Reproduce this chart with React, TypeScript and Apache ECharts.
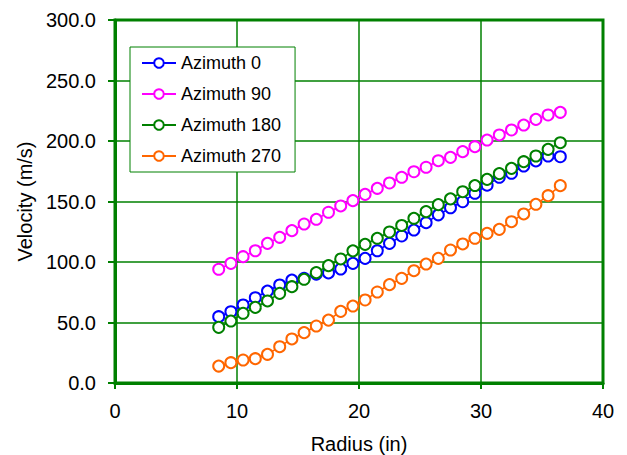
import React, { useEffect, useRef } from "react";
import * as echarts from "echarts";

const radius = [8.5, 9.5, 10.5, 11.5, 12.5, 13.5, 14.5, 15.5, 16.5, 17.5, 18.5, 19.5, 20.5, 21.5, 22.5, 23.5, 24.5, 25.5, 26.5, 27.5, 28.5, 29.5, 30.5, 31.5, 32.5, 33.5, 34.5, 35.5, 36.5];

const azimuth0 = [54.8, 58.9, 64.5, 70.5, 76.0, 81.0, 85.1, 86.5, 90.0, 91.0, 94.2, 98.9, 103.0, 109.3, 115.4, 121.5, 126.4, 132.5, 139.0, 144.8, 149.8, 156.8, 163.5, 170.0, 173.3, 179.3, 183.5, 187.6, 187.0];
const azimuth90 = [94.0, 98.9, 104.4, 109.3, 115.4, 120.4, 125.9, 131.4, 135.3, 141.1, 146.3, 150.7, 155.9, 160.9, 165.3, 170.0, 174.6, 178.3, 183.7, 186.5, 191.2, 195.3, 200.8, 205.0, 209.1, 213.2, 217.9, 221.5, 223.7];
const azimuth180 = [46.0, 51.2, 57.6, 62.5, 67.8, 74.1, 79.6, 85.7, 91.2, 97.0, 102.5, 109.2, 114.6, 119.6, 124.8, 130.2, 136.1, 141.6, 147.4, 152.2, 158.1, 163.2, 168.3, 173.0, 177.4, 182.9, 187.6, 193.1, 198.6];
const azimuth270 = [14.0, 16.8, 19.0, 20.1, 23.7, 30.0, 36.4, 41.6, 47.1, 52.0, 59.2, 63.6, 68.6, 75.2, 81.3, 86.5, 92.8, 98.3, 103.0, 109.9, 114.9, 119.6, 123.7, 127.0, 133.3, 139.7, 147.7, 154.8, 163.1];

const seriesNames = ["Azimuth 0", "Azimuth 90", "Azimuth 180", "Azimuth 270"];
const seriesColors = ["#0000FF", "#FF00FF", "#008000", "#FF6600"];
const seriesValues = [azimuth0, azimuth90, azimuth180, azimuth270];

const FONT = 'Arial, "Liberation Sans", sans-serif';
const GREEN = "#008000";
const AXIS_FONT = 20;

export default function App() {
  const ref = useRef<HTMLDivElement>(null);
  useEffect(() => {
    if (!ref.current) return;
    const chart = echarts.init(ref.current, null, { renderer: "svg" });
    chart.setOption({
      animation: false,
      backgroundColor: "#ffffff",
      textStyle: { fontFamily: FONT },
      grid: {
        left: 115,
        right: 24,
        top: 20,
        bottom: 72,
        containLabel: false,
        outerBoundsMode: "none",
        show: true,
        borderColor: GREEN,
        borderWidth: 3,
        backgroundColor: "transparent",
      },
      legend: {
        orient: "vertical",
        left: 130,
        top: 47,
        width: 165,
        padding: [7, 14, 7, 11],
        itemGap: 13,
        itemWidth: 34,
        itemHeight: 12,
        borderColor: GREEN,
        borderWidth: 1,
        backgroundColor: "#ffffff",
        textStyle: { fontFamily: FONT, fontSize: 18, color: "#000" },
        data: seriesNames,
      },
      xAxis: {
        type: "value",
        min: 0,
        max: 40,
        interval: 10,
        name: "Radius (in)",
        nameLocation: "middle",
        nameGap: 51,
        nameTextStyle: { fontFamily: FONT, fontSize: AXIS_FONT, color: "#000" },
        axisLine: { show: true, lineStyle: { color: GREEN, width: 3 } },
        axisTick: { show: true, length: 6, lineStyle: { color: GREEN, width: 2 } },
        axisLabel: { fontFamily: FONT, fontSize: AXIS_FONT, color: "#000", margin: 18 },
        splitLine: { show: true, lineStyle: { color: GREEN, width: 1.5 } },
      },
      yAxis: {
        type: "value",
        min: 0,
        max: 300,
        interval: 50,
        name: "Velocity (m/s)",
        nameLocation: "middle",
        nameRotate: 90,
        nameGap: 77,
        nameTextStyle: { fontFamily: FONT, fontSize: AXIS_FONT, color: "#000" },
        axisLine: { show: true, lineStyle: { color: GREEN, width: 3 } },
        axisTick: { show: true, length: 7, lineStyle: { color: GREEN, width: 2 } },
        axisLabel: {
          fontFamily: FONT,
          fontSize: AXIS_FONT,
          color: "#000",
          margin: 19,
          formatter: (v: number) => v.toFixed(1),
        },
        splitLine: { show: true, lineStyle: { color: GREEN, width: 1.5 } },
      },
      series: seriesNames.map((name, i) => ({
        name,
        type: "line",
        data: radius.map((r, j) => [r, seriesValues[i][j]]),
        symbol: "emptyCircle",
        symbolSize: 11,
        showAllSymbol: true,
        color: seriesColors[i],
        lineStyle: { color: seriesColors[i], width: 1.5 },
        itemStyle: { color: seriesColors[i], borderWidth: 1.5 },
      })),
    });
    return () => chart.dispose();
  }, []);
  return (
    <div
      ref={ref}
      style={{ position: "absolute", left: 0, top: 0, width: 627, height: 455, background: "#fff" }}
    />
  );
}
